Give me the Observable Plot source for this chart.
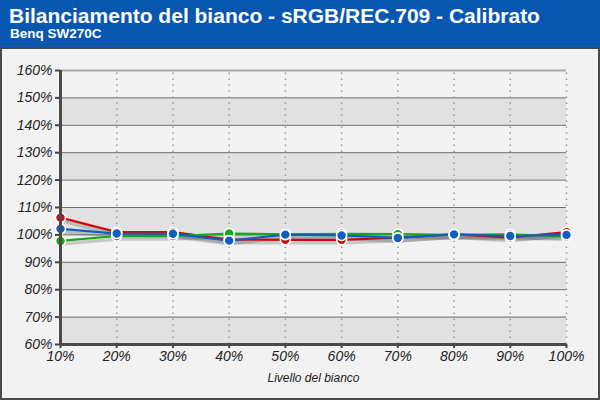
<!DOCTYPE html>
<html><head><meta charset="utf-8">
<script src="https://cdn.jsdelivr.net/npm/d3@7"></script>
<script src="https://cdn.jsdelivr.net/npm/@observablehq/plot@0.6"></script>
<style>
html,body{margin:0;padding:0;width:600px;height:400px;overflow:hidden;font-family:"Liberation Sans",Arial,sans-serif;}
#head{position:absolute;left:0;top:0;width:600px;height:47px;background:#0757b0;color:#fff;}
#title{position:absolute;left:9px;top:4px;font-size:21px;font-weight:bold;}
#sub{position:absolute;left:10px;top:26px;font-size:13.5px;font-weight:bold;}
#panel{position:absolute;left:0;top:47px;width:600px;height:353px;box-sizing:border-box;border:2px solid #4a4a4a;background:#f2f2f2;}
#chart{position:absolute;left:0;top:47px;}
#chart svg{overflow:visible;}
</style></head>
<body>
<div id="head"><div id="title">Bilanciamento del bianco - sRGB/REC.709 - Calibrato</div><div id="sub">Benq SW270C</div></div>
<div id="panel"></div>
<div id="chart"></div>
<script>
const levels = [10,20,30,40,50,60,70,80,90,100];
const red   = [106.3,101.0,101.0,98.3,98.2,98.2,99.0,100.2,99.0,101.0];
const green = [97.8,99.6,99.6,100.5,100.2,100.4,100.3,100.0,100.2,99.4];
const blue  = [102.2,100.5,100.4,97.9,100.1,99.8,98.9,100.2,99.6,100.0];
const yTicks = [60,70,80,90,100,110,120,130,140,150,160];
const xLabel = "Livello del bianco";

const series = [
  {name:"R", values:red, color:"#cc0a0a"},
  {name:"G", values:green, color:"#16a816"},
  {name:"B", values:blue, color:"#0d5fbf"}
];
const rows = series.flatMap(s => s.values.map((v,i)=>({x:levels[i], y:v, s:s.name, c:s.color})));
const bands = yTicks.filter((t,i)=> i%2===0 && i<yTicks.length-1).map(t=>({y1:t,y2:t+10}));

const marks = [
  Plot.rect(bands,{x1:levels[0],x2:levels[levels.length-1],y1:"y1",y2:"y2",fill:"#e1e1e1"}),
  Plot.ruleY(yTicks.slice(1,-1),{stroke:"#6e6e6e",strokeWidth:1}),
  Plot.ruleY([yTicks[yTicks.length-1]],{stroke:"#a8a8a8",strokeWidth:2}),
  Plot.ruleX(levels.slice(1),{y1:yTicks[0],y2:yTicks[yTicks.length-1],stroke:"#9a9a9a",strokeWidth:1.5,strokeDasharray:"1.5,4.5"}),
];
for (const s of series) {
  const d = rows.filter(r=>r.s===s.name);
  marks.push(Plot.line(d,{x:"x",y:"y",stroke:"#222",strokeWidth:3.5,strokeOpacity:0.2,dy:3}));
}
for (const s of series) {
  const d = rows.filter(r=>r.s===s.name);
  marks.push(Plot.line(d,{x:"x",y:"y",stroke:s.color,strokeWidth:2.2}));
}
for (const s of series) {
  const d = rows.filter(r=>r.s===s.name);
  marks.push(Plot.dot(d,{x:"x",y:"y",r:5,fill:s.color,stroke:"#fff",strokeWidth:1.6}));
}
marks.push(
  Plot.axisY({ticks:yTicks,tickFormat:d=>d+"%",tickSize:5,tickPadding:3,stroke:"#444",strokeWidth:2,fontSize:14,fontStyle:"italic",fill:"#222",label:null}),
  Plot.axisX({ticks:levels,tickFormat:d=>d+"%",tickSize:4,tickPadding:3,stroke:"#444",strokeWidth:2,fontSize:14,fontStyle:"italic",fill:"#222",label:null}),
  Plot.ruleX([levels[0]],{y1:yTicks[0],y2:yTicks[yTicks.length-1],stroke:"#4a4a4a",strokeWidth:3}),
  Plot.ruleY([yTicks[0]],{x1:levels[0],x2:levels[levels.length-1],stroke:"#4a4a4a",strokeWidth:3}),
  Plot.text([xLabel],{frameAnchor:"bottom",dy:37,fontSize:12,fontStyle:"italic",fill:"#222"})
);

const chart = Plot.plot({
  width:600, height:353,
  marginLeft:60, marginRight:34, marginTop:23, marginBottom:56,
  style:{background:"transparent",fontFamily:"'Liberation Sans',Arial,sans-serif"},
  x:{domain:[levels[0],levels[levels.length-1]]},
  y:{domain:[yTicks[0],yTicks[yTicks.length-1]]},
  marks
});
document.getElementById("chart").appendChild(chart);
</script>
</body></html>
